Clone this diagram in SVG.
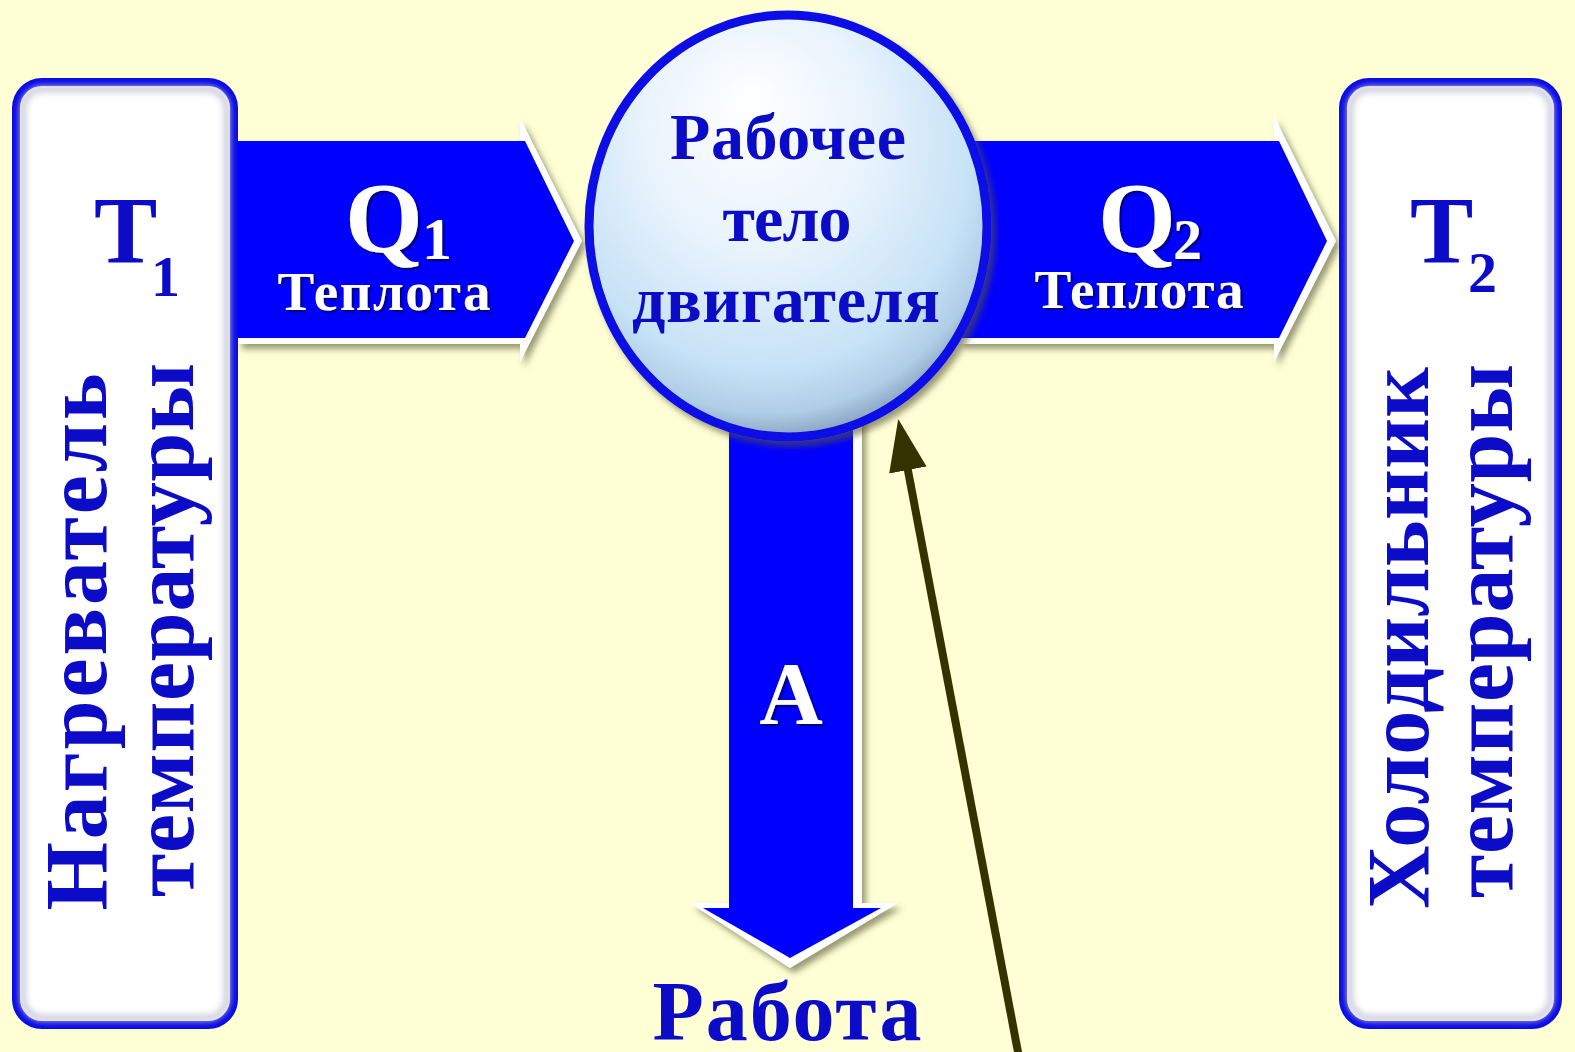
<svg xmlns="http://www.w3.org/2000/svg" width="1575" height="1052" viewBox="0 0 1575 1052">
<defs>
<style>
.t{font-family:"Liberation Serif","Times New Roman",serif;font-weight:bold}
.blue{fill:#0c0cc8}
.wt{fill:#ffffff;filter:url(#tsh)}
.arrowBlue{fill:#0000ff}
.bevel{fill:#ffffff}
.box{fill:#ffffff;stroke:#0a0ae6;stroke-width:8}
.inner{fill:none;stroke:#c8c8d8;stroke-width:6;filter:url(#blur3)}
.pointer{stroke:#333300;stroke-width:8;fill:none}
</style>
<filter id="sh" x="-10%" y="-10%" width="130%" height="130%">
<feDropShadow dx="4" dy="5" stdDeviation="3" flood-color="#555533" flood-opacity="0.6"/>
</filter>
<filter id="tsh" x="-10%" y="-10%" width="130%" height="130%">
<feDropShadow dx="2" dy="2" stdDeviation="1.2" flood-color="#000033" flood-opacity="0.7"/>
</filter>
<filter id="blur3"><feGaussianBlur stdDeviation="3"/></filter>
<radialGradient id="ball" cx="0.45" cy="0.35" r="0.65" fx="0.4" fy="0.2">
<stop offset="0" stop-color="#ffffff"/>
<stop offset="0.45" stop-color="#e8f3fc"/>
<stop offset="0.8" stop-color="#c6e2f6"/>
<stop offset="0.93" stop-color="#b0cde6"/>
<stop offset="1" stop-color="#8aa6c4"/>
</radialGradient>
<marker id="head" markerUnits="userSpaceOnUse" markerWidth="54" markerHeight="40" viewBox="0 0 54 40" refX="1" refY="19" orient="auto">
<path d="M0,0 L52,19 L0,38 Z" fill="#333300"/>
</marker>
</defs>
<rect width="1575" height="1052" fill="#ffffd6"/>

<g id="connectors">
<g id="arrow-q1" filter="url(#sh)">
<path class="bevel" d="M238,141 L520,141 L520,118 L582,241 L520,362 L520,344 L238,344 Z"/>
<path class="arrowBlue" d="M238,141 L525,141 L574,241 L525,338 L238,338 Z"/>
</g>
<g id="arrow-q2" filter="url(#sh)">
<path class="bevel" d="M960,141 L1274,141 L1274,116 L1336,241 L1274,362 L1274,344 L960,344 Z"/>
<path class="arrowBlue" d="M960,141 L1279,141 L1327,241 L1279,338 L960,338 Z"/>
</g>
<g id="arrow-a" filter="url(#sh)">
<path class="bevel" d="M729,380 L862,380 L862,903 L898,903 L790,968 L690,903 L729,903 Z"/>
<path class="arrowBlue" d="M729,380 L853,380 L853,908 L881,908 L790,958 L703,908 L729,908 Z"/>
</g>
</g>

<g id="heater">
<rect class="box" x="16" y="82" width="218" height="943" rx="26"/>
<rect class="inner" x="23" y="89" width="204" height="929" rx="20"/>
<text class="t blue" x="94" y="263" font-size="95">T</text>
<text class="t blue" x="151" y="296" font-size="58">1</text>
<text class="t blue" font-size="88" text-anchor="middle" textLength="537" lengthAdjust="spacing" transform="translate(106,642) rotate(-90)">Нагреватель</text>
<text class="t blue" font-size="88" text-anchor="middle" textLength="534" lengthAdjust="spacing" transform="translate(193,630) rotate(-90)">температуры</text>
</g>

<g id="cooler">
<rect class="box" x="1343" y="82" width="215" height="943" rx="26"/>
<rect class="inner" x="1350" y="89" width="201" height="929" rx="20"/>
<text class="t blue" x="1410" y="263" font-size="95">T</text>
<text class="t blue" x="1468" y="292" font-size="58">2</text>
<text class="t blue" font-size="88" text-anchor="middle" textLength="542" lengthAdjust="spacing" transform="translate(1428,638) rotate(-90)">Холодильник</text>
<text class="t blue" font-size="88" text-anchor="middle" textLength="534" lengthAdjust="spacing" transform="translate(1512,631) rotate(-90)">температуры</text>
</g>

<g id="body">
<ellipse cx="788" cy="226" rx="199" ry="211" fill="url(#ball)" stroke="#0a0ae6" stroke-width="9" filter="url(#sh)"/>
<text class="t blue" x="788" y="159" font-size="66" text-anchor="middle" textLength="236" lengthAdjust="spacing">Рабочее</text>
<text class="t blue" x="787" y="241" font-size="66" text-anchor="middle" textLength="129" lengthAdjust="spacing">тело</text>
<text class="t blue" x="786" y="322" font-size="66" text-anchor="middle" textLength="308" lengthAdjust="spacing">двигателя</text>
</g>

<g id="labels">
<text class="t wt" x="345" y="251" font-size="100">Q</text>
<text class="t wt" x="422" y="259" font-size="60">1</text>
<text class="t wt" x="384" y="310" font-size="55" text-anchor="middle" textLength="213" lengthAdjust="spacing">Теплота</text>
<text class="t wt" x="1098" y="251" font-size="100">Q</text>
<text class="t wt" x="1173" y="259" font-size="58">2</text>
<text class="t wt" x="1139" y="308" font-size="55" text-anchor="middle" textLength="209" lengthAdjust="spacing">Теплота</text>
<text class="t wt" x="791" y="723" font-size="88" text-anchor="middle">A</text>
<text class="t blue" x="787" y="1040" font-size="84" text-anchor="middle" textLength="269" lengthAdjust="spacing">Работа</text>
</g>

<g id="pointer">
<line class="pointer" x1="1019.5" y1="1060" x2="907.7" y2="469.1" marker-end="url(#head)"/>
</g>
</svg>
